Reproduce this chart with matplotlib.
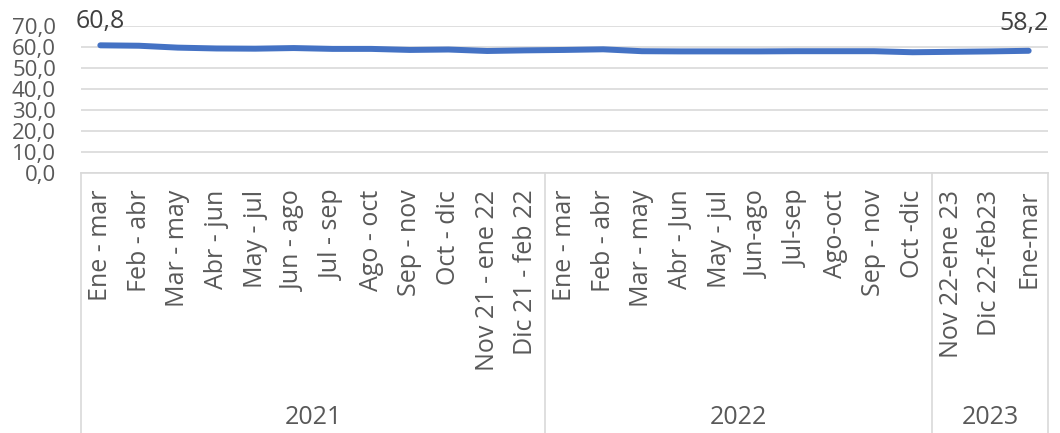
import matplotlib
matplotlib.use("Agg")
import matplotlib.pyplot as plt
import matplotlib.transforms as mtransforms

categories = ["Ene - mar", "Feb - abr", "Mar - may", "Abr - jun", "May - jul", "Jun - ago",
              "Jul - sep", "Ago - oct", "Sep - nov", "Oct - dic", "Nov 21 - ene 22", "Dic 21 - feb 22",
              "Ene - mar", "Feb - abr", "Mar - may", "Abr - Jun", "May - jul", "Jun-ago",
              "Jul-sep", "Ago-oct", "Sep - nov", "Oct -dic",
              "Nov 22-ene 23", "Dic 22-feb23", "Ene-mar"]
values = [60.8, 60.6, 59.7, 59.3, 59.2, 59.5, 59.1, 59.1, 58.6, 58.8, 58.1, 58.4,
          58.6, 58.9, 58.0, 57.9, 57.9, 57.9, 58.0, 58.0, 58.0, 57.5,
          57.7, 57.9, 58.2]
years = ["2021", "2022", "2023"]
year_counts = [12, 10, 3]
y_ticks = [0, 10, 20, 30, 40, 50, 60, 70]

FONT = ["Open Sans", "DejaVu Sans"]
FS = 18
FS_Y = 16
TXT = "#595959"
GRID = "#d9d9d9"
LINE = "#4472C4"

fig = plt.figure(figsize=(10.6, 4.33), dpi=100)
ax = fig.add_axes([81 / 1060, 1 - 173 / 433, (1048 - 81) / 1060, (173 - 26) / 433])

n = len(categories)
x = list(range(n))
ax.plot(x, values, color=LINE, lw=4.3, solid_capstyle="round", solid_joinstyle="round", zorder=3)

ax.set_xlim(-0.5, n - 0.5)
ax.set_ylim(0, 70)
ax.set_yticks(y_ticks)
ax.set_yticklabels([f"{v:.1f}".replace(".", ",") for v in y_ticks], fontsize=FS_Y,
                   color=TXT, family=FONT)
ax.yaxis.grid(True, color=GRID, lw=1.2)
ax.set_axisbelow(True)
for s in ["top", "right", "left"]:
    ax.spines[s].set_visible(False)
ax.spines["bottom"].set_color(GRID)
ax.spines["bottom"].set_linewidth(1.2)
ax.tick_params(axis="y", length=0, pad=18)
ax.tick_params(axis="x", length=0, pad=12)

ax.set_xticks(x)
ax.set_xticklabels(categories, rotation=90, fontsize=FS, color=TXT, family=FONT,
                   va="top", ha="center")

# Data labels at first and last points
ax.annotate(f"{values[0]:.1f}".replace(".", ","), (x[0], values[0]), xytext=(0, 8),
            textcoords="offset points", ha="center", va="bottom", fontsize=FS,
            color="#404040", family=FONT)
ax.annotate(f"{values[-1]:.1f}".replace(".", ","), (x[-1], values[-1]), xytext=(-3, 11),
            textcoords="offset points", ha="center", va="bottom", fontsize=FS,
            color="#404040", family=FONT)

# Multi-level category axis: separators and year labels
trans = mtransforms.blended_transform_factory(ax.transData, ax.transAxes)
bottom = -(433 - 173) / 147
bounds = [-0.5]
for c in year_counts:
    bounds.append(bounds[-1] + c)
for b in bounds:
    ax.plot([b, b], [0, bottom], transform=trans, color=GRID, lw=1.2, clip_on=False)
for i, yr in enumerate(years):
    ax.text((bounds[i] + bounds[i + 1]) / 2, -(418 - 173) / 147, yr, transform=trans,
            ha="center", va="center", fontsize=FS, color=TXT, family=FONT)

fig.savefig("out.png", dpi=100)
